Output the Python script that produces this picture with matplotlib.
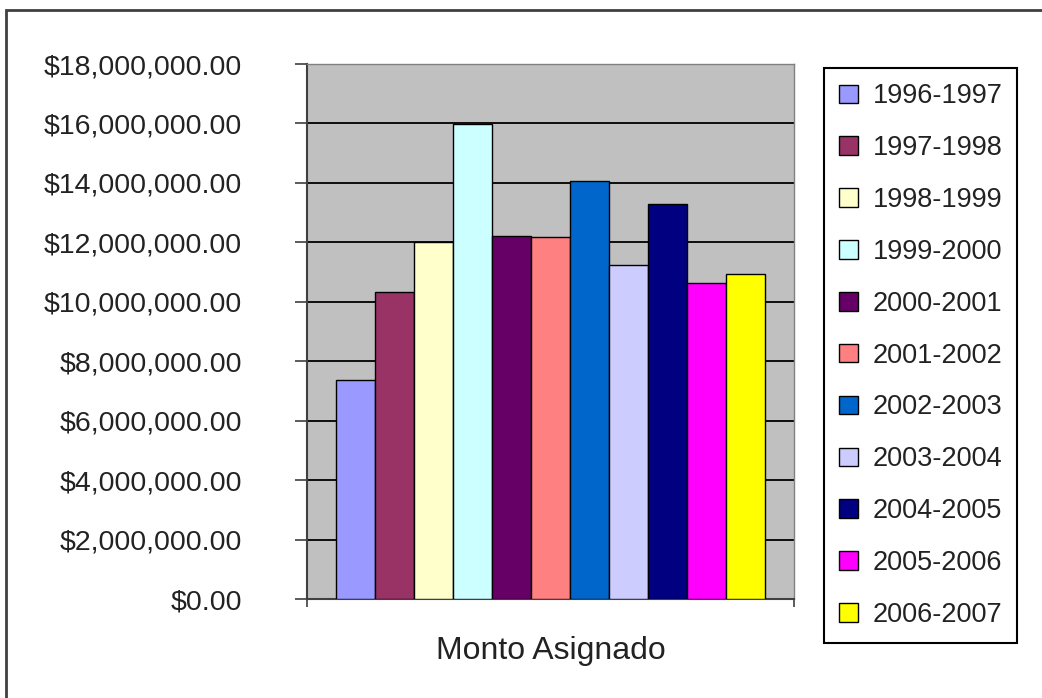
import matplotlib
matplotlib.use("Agg")
import matplotlib.pyplot as plt
from matplotlib.patches import Rectangle, Patch
from matplotlib.ticker import FuncFormatter

plt.rcParams['font.family'] = ['Liberation Sans', 'DejaVu Sans']

periods = ["1996-1997", "1997-1998", "1998-1999", "1999-2000", "2000-2001",
           "2001-2002", "2002-2003", "2003-2004", "2004-2005", "2005-2006",
           "2006-2007"]
amounts = [7360000, 10330000, 12000000, 15970000, 12200000, 12180000,
           14080000, 11250000, 13300000, 10630000, 10950000]
colors = ["#9999FF", "#993366", "#FFFFCC", "#CCFFFF", "#660066", "#FF8080",
          "#0066CC", "#CCCCFF", "#000080", "#FF00FF", "#FFFF00"]
category = "Monto Asignado"

fig = plt.figure(figsize=(10.42, 6.98), dpi=100)
ax = fig.add_axes([0.2946, 0.1418, 0.4674, 0.7665])

# excel style: 150% gap width split on both sides of the group
n = len(amounts)
width = 1.0 / (n + 1.5)
start = 0.75 * width
for i, (val, col) in enumerate(zip(amounts, colors)):
    ax.bar(start + i * width, val, width=width, align="edge", color=col,
           edgecolor="black", linewidth=1.0, zorder=3)

ax.set_xlim(0, 1)
ax.set_ylim(0, 18000000)
ax.set_yticks(range(0, 18000001, 2000000))
ax.yaxis.set_major_formatter(FuncFormatter(lambda v, p: "${:,.2f}".format(v)))
ax.set_facecolor("#C0C0C0")
ax.grid(axis="y", color="black", linewidth=1.3, zorder=1)
ax.set_axisbelow(True)

ax.set_xticks([0, 1])
ax.set_xticklabels([])
ax.tick_params(axis="x", direction="out", length=6, width=1.2, color="#404040")
ax.tick_params(axis="y", direction="out", length=8.6, width=1.2, color="#404040",
               labelsize=20.5, pad=38, labelcolor="#222222")

for side in ["top", "right"]:
    ax.spines[side].set_color("#808080")
    ax.spines[side].set_linewidth(1.0)
ax.spines["left"].set_color("#404040")
ax.spines["left"].set_linewidth(1.5)
ax.spines["bottom"].set_color("#404040")
ax.spines["bottom"].set_linewidth(1.5)

ax.text(0.5, -0.098, category, transform=ax.transAxes, ha="center", va="center",
        fontsize=23, color="#222222")

handles = [Patch(facecolor=c, edgecolor="black", linewidth=1.0) for c in colors]
leg = fig.legend(handles, periods, loc="upper left", bbox_to_anchor=(0.791, 0.902),
                 fontsize=19.5, frameon=True, fancybox=False, edgecolor="black",
                 framealpha=1, handlelength=0.68, handleheight=0.68,
                 handletextpad=0.55, labelspacing=0.955, borderpad=0.55,
                 borderaxespad=0)
leg.get_frame().set_linewidth(1.5)
for t in leg.get_texts():
    t.set_color("#222222")

# outer chart border (clipped on right and bottom like the screenshot)
fig.patches.append(Rectangle((6 / 1042, -0.05), 1.1, 1 - 10 / 698 + 0.05,
                             transform=fig.transFigure, fill=False,
                             edgecolor="#404040", linewidth=2))

fig.savefig("out.png", dpi=100)
plt.close(fig)
